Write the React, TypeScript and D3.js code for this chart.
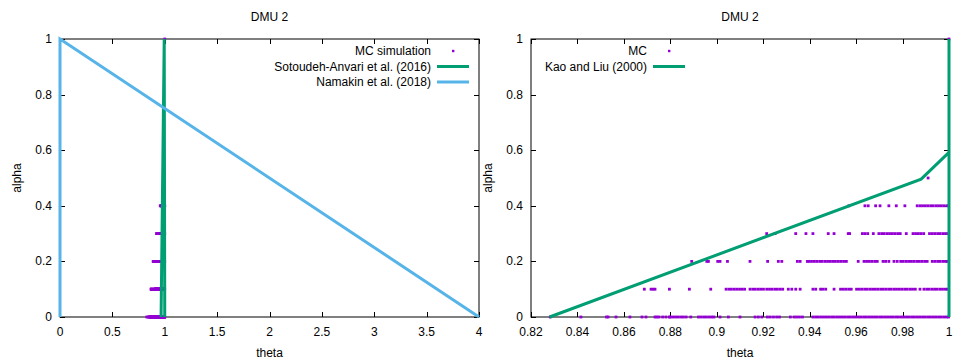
import React, { useRef, useEffect } from 'react';
import * as d3 from 'd3';

// MC simulation: theta values per alpha level
const mcAlpha0 = [
  0.8283, 0.8415, 0.8525, 0.8532, 0.8566, 0.8626, 0.8678, 0.8695, 0.8734, 0.8742, 0.8751, 0.8767, 0.8781, 0.8796,
  0.8799, 0.881, 0.8822, 0.8833, 0.8845, 0.8856, 0.8868, 0.8888, 0.8921, 0.8932, 0.8944, 0.8955, 0.8967, 0.8978,
  0.8988, 0.9014, 0.905, 0.91, 0.9165, 0.9179, 0.9194, 0.9218, 0.923, 0.9244, 0.9258, 0.927, 0.9317, 0.9333,
  0.9344, 0.9356, 0.9369, 0.9414, 0.9426, 0.9437, 0.9449, 0.946, 0.9472, 0.9483, 0.9495, 0.9506, 0.9518, 0.9529,
  0.9541, 0.9552, 0.9564, 0.9575, 0.9587, 0.9598, 0.961, 0.9621, 0.9633, 0.9644, 0.9656, 0.9667, 0.9679, 0.969,
  0.9702, 0.9713, 0.9725, 0.9736, 0.9748, 0.9759, 0.9771, 0.9782, 0.9794, 0.9805, 0.9817, 0.9828, 0.984, 0.9851,
  0.9863, 0.9874, 0.9886, 0.9897, 0.9909, 0.992, 0.9932, 0.9943, 0.9955, 0.9966, 0.9978, 0.9989, 0.9998,
];
const mcAlpha1 = [
  0.8688, 0.8717, 0.8726, 0.8734, 0.8796, 0.8882, 0.8974, 0.904, 0.9052, 0.9063, 0.9075, 0.9086, 0.9098, 0.9109,
  0.912, 0.9143, 0.9155, 0.9166, 0.9178, 0.9189, 0.9201, 0.9215, 0.9227, 0.9238, 0.925, 0.9261, 0.9273, 0.9284,
  0.9308, 0.9323, 0.934, 0.9359, 0.9414, 0.9426, 0.9447, 0.9457, 0.9469, 0.9505, 0.9533, 0.9545, 0.9556, 0.9568,
  0.9579, 0.9602, 0.9614, 0.9625, 0.9637, 0.9648, 0.966, 0.9671, 0.9683, 0.9694, 0.9706, 0.9717, 0.9728, 0.974,
  0.9751, 0.9763, 0.9774, 0.9786, 0.9797, 0.9809, 0.982, 0.9832, 0.9843, 0.9855, 0.9875, 0.9892, 0.9904, 0.9915,
  0.9927, 0.9938, 0.9949, 0.9961, 0.9972, 0.9984, 0.9993,
];
const mcAlpha2 = [
  0.8892, 0.8957, 0.8964, 0.9004, 0.9014, 0.9046, 0.9143, 0.9219, 0.9265, 0.928, 0.9347, 0.9359, 0.939, 0.9397,
  0.9408, 0.942, 0.9431, 0.9443, 0.9454, 0.9466, 0.9477, 0.9489, 0.95, 0.9511, 0.9523, 0.9534, 0.9546, 0.9558,
  0.9609, 0.9634, 0.9645, 0.9657, 0.9668, 0.968, 0.9691, 0.9716, 0.9727, 0.9741, 0.9763, 0.9777, 0.9792, 0.9803,
  0.9815, 0.9826, 0.9838, 0.9849, 0.9861, 0.9872, 0.9883, 0.9895, 0.9906, 0.9928, 0.9939, 0.9951, 0.9962, 0.9974,
  0.9985, 0.9993,
];
const mcAlpha3 = [
  0.9215, 0.9251, 0.934, 0.9384, 0.9414, 0.948, 0.9505, 0.9566, 0.9572, 0.9627, 0.9638, 0.965, 0.9674, 0.9698,
  0.971, 0.9721, 0.9733, 0.9744, 0.9756, 0.9767, 0.9779, 0.979, 0.9816, 0.9845, 0.9856, 0.9868, 0.9879, 0.9891,
  0.9916, 0.9928, 0.9939, 0.9951, 0.9962, 0.9974, 0.9985, 0.9996,
];
const mcAlpha4 = [
  0.9569, 0.9638, 0.9652, 0.9684, 0.9703, 0.9741, 0.9773, 0.981, 0.9863, 0.9875, 0.9886, 0.9898, 0.9909, 0.9921,
  0.9932, 0.9944, 0.9955, 0.9967, 0.9978, 0.999, 0.9998,
];
const mcAlpha5 = [0.991];
const mcAlpha10 = [1.0];
const mcLevels = [0, 0.1, 0.2, 0.3, 0.4, 0.5, 1];
const mcRows = [mcAlpha0, mcAlpha1, mcAlpha2, mcAlpha3, mcAlpha4, mcAlpha5, mcAlpha10];

// Sotoudeh-Anvari et al. (2016)
const sotoudehTheta = [0.965, 0.995, 1.0];
const sotoudehAlpha = [0, 1, 0];
// Namakin et al. (2018)
const namakinTheta = [0, 0, 4];
const namakinAlpha = [0, 1, 0];
// Kao and Liu (2000)
const kaoTheta = [0.828, 0.988, 1.0, 1.0, 1.0];
const kaoAlpha = [0, 0.496, 0.592, 1, 0];

const leftTicksX = [0, 0.5, 1, 1.5, 2, 2.5, 3, 3.5, 4];
const rightTicksX = [0.82, 0.84, 0.86, 0.88, 0.9, 0.92, 0.94, 0.96, 0.98, 1];
const ticksY = [0, 0.2, 0.4, 0.6, 0.8, 1];

const PURPLE = '#9400d3';
const GREEN = '#009e73';
const BLUE = '#56b4e9';
const FONT = '"Liberation Sans", Arial, sans-serif';

const App: React.FC = () => {
  const svgRef = useRef<SVGSVGElement>(null);
  const width = 954;
  const height = 361;

  useEffect(() => {
    if (!svgRef.current) return;
    const svg = d3.select(svgRef.current);
    svg.selectAll('*').remove();

    const top = 39;
    const bottom = 317;
    const dot = 2.8;

    const drawPanel = (
      x0: number,
      x1: number,
      domain: [number, number],
      xTicks: number[],
      lines: { theta: number[]; alpha: number[]; color: string; label: string }[],
      mcLabel: string,
      legendRight: number,
    ) => {
      const x = d3.scaleLinear().domain(domain).range([x0, x1]);
      const y = d3.scaleLinear().domain([0, 1]).range([bottom, top]);
      const g = svg.append('g');

      // frame
      g.append('rect')
        .attr('x', x0).attr('y', top)
        .attr('width', x1 - x0).attr('height', bottom - top)
        .attr('fill', 'none').attr('stroke', '#000').attr('stroke-width', 1);

      // x ticks (mirrored)
      xTicks.forEach(t => {
        const px = Math.round(x(t)) + 0.5;
        g.append('line').attr('x1', px).attr('x2', px).attr('y1', bottom).attr('y2', bottom - 5)
          .attr('stroke', '#000');
        g.append('line').attr('x1', px).attr('x2', px).attr('y1', top).attr('y2', top + 5)
          .attr('stroke', '#000');
        g.append('text')
          .attr('x', x(t)).attr('y', bottom + 19)
          .attr('text-anchor', 'middle')
          .attr('font-size', '12px').attr('font-family', FONT).attr('fill', '#000')
          .text(d3.format('~g')(t));
      });

      // y ticks (mirrored)
      ticksY.forEach(t => {
        const py = Math.round(y(t)) + 0.5;
        g.append('line').attr('x1', x0).attr('x2', x0 + 5).attr('y1', py).attr('y2', py).attr('stroke', '#000');
        g.append('line').attr('x1', x1).attr('x2', x1 - 5).attr('y1', py).attr('y2', py).attr('stroke', '#000');
        g.append('text')
          .attr('x', x0 - 8).attr('y', y(t) + 4)
          .attr('text-anchor', 'end')
          .attr('font-size', '12px').attr('font-family', FONT).attr('fill', '#000')
          .text(d3.format('~g')(t));
      });

      // MC dots
      mcRows.forEach((row, i) => {
        g.selectAll(null)
          .data(row)
          .enter()
          .append('rect')
          .attr('x', d => x(d) - dot / 2)
          .attr('y', y(mcLevels[i]) - dot / 2)
          .attr('width', dot)
          .attr('height', dot)
          .attr('fill', PURPLE);
      });

      // lines
      lines.forEach(l => {
        const pts = l.theta.map((t, i) => [x(t), y(l.alpha[i])] as [number, number]);
        g.append('path')
          .attr('d', d3.line()(pts))
          .attr('fill', 'none')
          .attr('stroke', l.color)
          .attr('stroke-width', 3);
      });

      // legend
      const rows = [{ label: mcLabel, color: PURPLE, dot: true }, ...lines.map(l => ({ label: l.label, color: l.color, dot: false }))];
      rows.forEach((r, i) => {
        const ly = 51 + i * 15.5;
        g.append('text')
          .attr('x', legendRight).attr('y', ly + 4)
          .attr('text-anchor', 'end')
          .attr('font-size', '12px').attr('font-family', FONT).attr('fill', '#000')
          .text(r.label);
        if (r.dot) {
          g.append('rect')
            .attr('x', legendRight + 21).attr('y', ly - 1.2)
            .attr('width', 2.4).attr('height', 2.4)
            .attr('fill', PURPLE);
        } else {
          g.append('line')
            .attr('x1', legendRight + 6).attr('x2', legendRight + 38)
            .attr('y1', ly).attr('y2', ly)
            .attr('stroke', r.color).attr('stroke-width', 3);
        }
      });

      // titles
      g.append('text')
        .attr('x', (x0 + x1) / 2).attr('y', 21)
        .attr('text-anchor', 'middle')
        .attr('font-size', '12px').attr('font-family', FONT).attr('fill', '#000')
        .text('DMU 2');
      g.append('text')
        .attr('x', (x0 + x1) / 2).attr('y', 357)
        .attr('text-anchor', 'middle')
        .attr('font-size', '12px').attr('font-family', FONT).attr('fill', '#000')
        .text('theta');
      g.append('text')
        .attr('transform', `translate(${x0 - 39},${(top + bottom) / 2}) rotate(-90)`)
        .attr('text-anchor', 'middle')
        .attr('font-size', '12px').attr('font-family', FONT).attr('fill', '#000')
        .text('alpha');
    };

    drawPanel(60, 479, [0, 4], leftTicksX, [
      { theta: sotoudehTheta, alpha: sotoudehAlpha, color: GREEN, label: 'Sotoudeh-Anvari et al. (2016)' },
      { theta: namakinTheta, alpha: namakinAlpha, color: BLUE, label: 'Namakin et al. (2018)' },
    ], 'MC simulation', 431);

    drawPanel(531, 949, [0.82, 1], rightTicksX, [
      { theta: kaoTheta, alpha: kaoAlpha, color: GREEN, label: 'Kao and Liu (2000)' },
    ], 'MC', 647);
  }, []);

  return (
    <svg
      ref={svgRef}
      width={width}
      height={height}
      style={{ position: 'absolute', left: 0, top: 0, background: '#fff' }}
    />
  );
};

export default App;
